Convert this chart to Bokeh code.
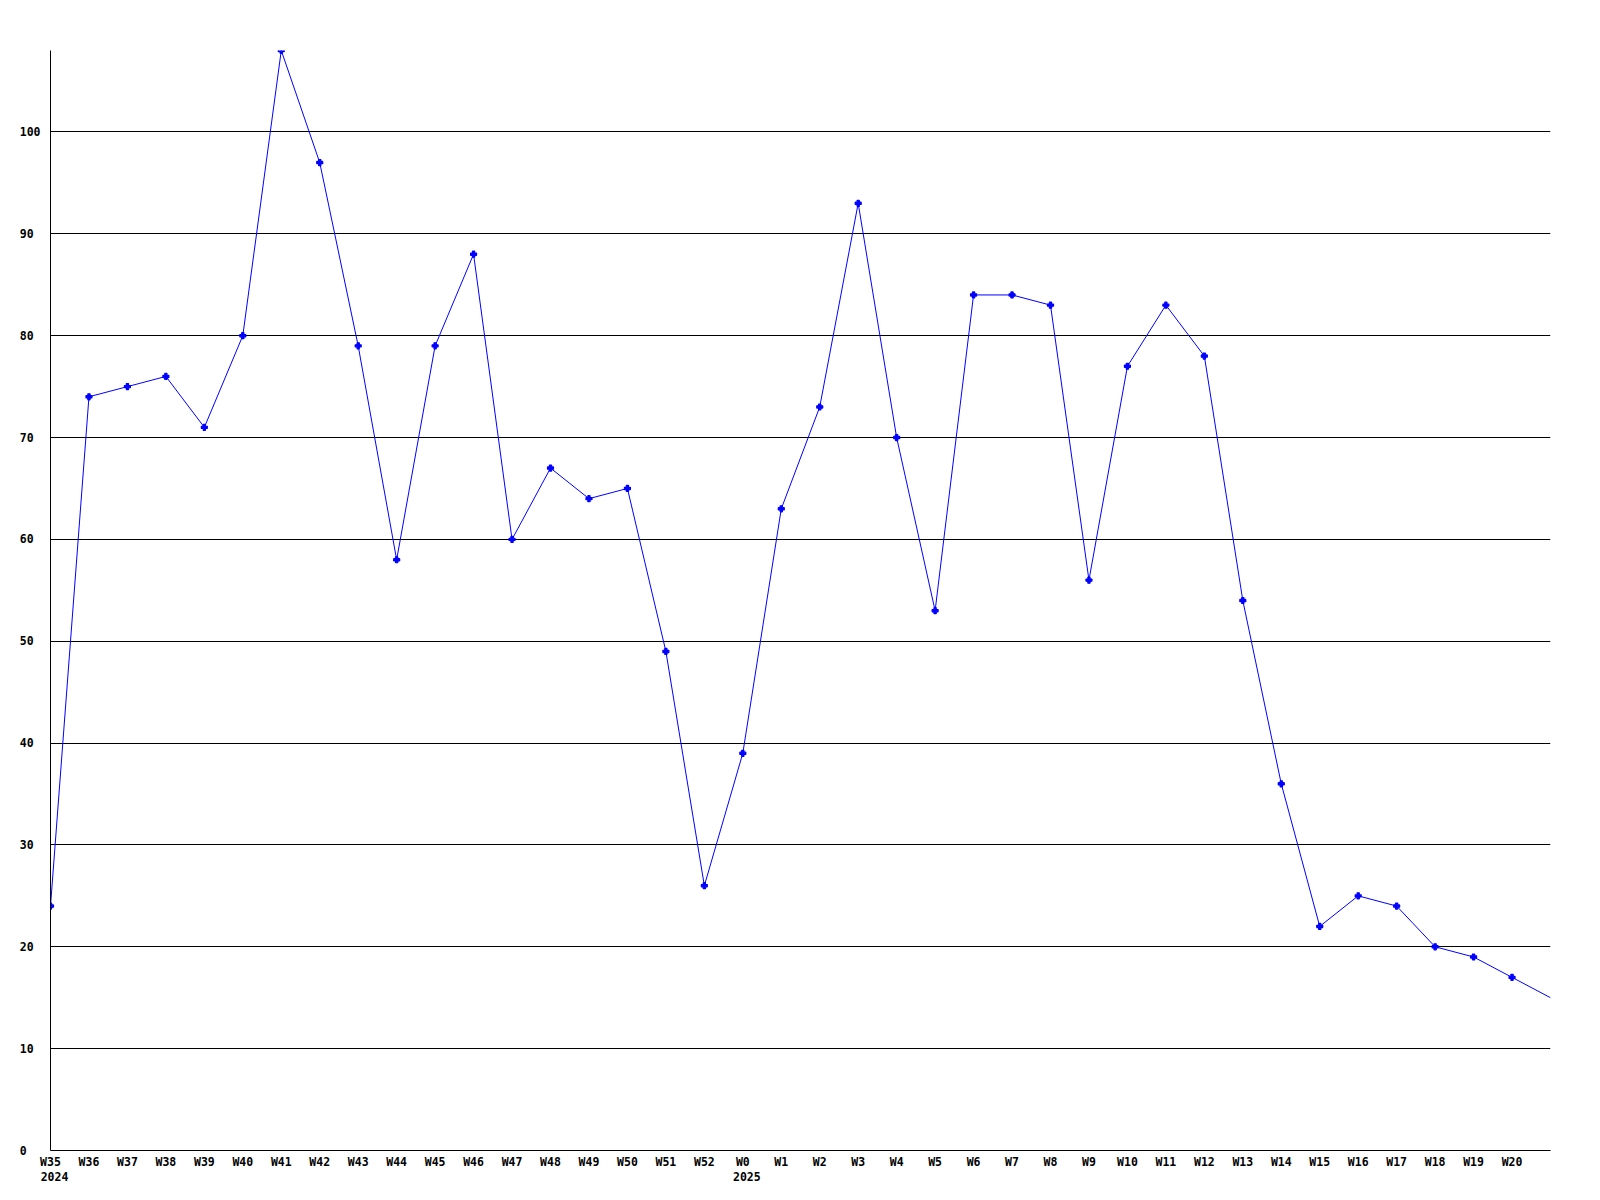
from bokeh.plotting import figure
from bokeh.models import Range1d, FixedTicker, LinearAxis
from bokeh.embed import file_html
from bokeh.resources import INLINE

weeks = ["W35", "W36", "W37", "W38", "W39", "W40", "W41", "W42", "W43", "W44",
         "W45", "W46", "W47", "W48", "W49", "W50", "W51", "W52",
         "W0", "W1", "W2", "W3", "W4", "W5", "W6", "W7", "W8", "W9", "W10",
         "W11", "W12", "W13", "W14", "W15", "W16", "W17", "W18", "W19", "W20", "W21"]
values = [24, 74, 75, 76, 71, 80, 108, 97, 79, 58,
          79, 88, 60, 67, 64, 65, 49, 26,
          39, 63, 73, 93, 70, 53, 84, 84, 83, 56, 77,
          83, 78, 54, 36, 22, 25, 24, 20, 19, 17, 15]
labelled_weeks = 39  # W21 has no tick label
year_labels = ["2024", "2025"]
year_positions = [0, 18]
y_ticks = [0, 10, 20, 30, 40, 50, 60, 70, 80, 90, 100]

FONT = "DejaVu Sans Mono"
FSIZE = "11.5px"
NB = "\u00a0"

xs = list(range(len(weeks)))
x_end = len(weeks) - 1

p = figure(width=1600, height=1200, output_backend="svg", toolbar_location=None,
           x_range=Range1d(0, x_end), y_range=Range1d(0, 108),
           min_border_left=50, min_border_right=50, min_border_top=50, min_border_bottom=50)
p.outline_line_color = None
p.background_fill_color = "white"
p.border_fill_color = "white"

p.line(xs, values, line_color="#0000ff", line_width=1)
p.scatter(xs[:labelled_weeks], values[:labelled_weeks], marker="plus", size=6,
          line_color="#0000ff", fill_color="#0000ff", line_width=1.2)

# x axis (week labels)
p.xaxis.ticker = FixedTicker(ticks=xs[:labelled_weeks])
p.xaxis.major_label_overrides = {i: weeks[i] for i in range(labelled_weeks)}
p.xaxis.major_tick_line_color = None
p.xaxis.major_tick_out = 0
p.xaxis.major_tick_in = 0
p.xaxis.minor_tick_line_color = None
p.xaxis.minor_tick_out = 0
p.xaxis.axis_line_color = "black"
p.xaxis.axis_line_width = 1
p.xaxis.major_label_text_font = FONT
p.xaxis.major_label_text_font_style = "bold"
p.xaxis.major_label_text_font_size = FSIZE
p.xaxis.major_label_text_color = "black"
p.xaxis.major_label_standoff = 4

# second axis for the year labels, nudged so the year starts where the week label starts
shift = 0.105
p.extra_x_ranges = {"years": Range1d(-shift, x_end - shift)}
year_axis = LinearAxis(x_range_name="years", ticker=FixedTicker(ticks=year_positions),
                       major_label_overrides={pos: yl for pos, yl in zip(year_positions, year_labels)},
                       axis_line_color=None, major_tick_line_color=None, minor_tick_line_color=None,
                       major_tick_out=0, major_tick_in=0, minor_tick_out=0,
                       major_label_text_font=FONT, major_label_text_font_style="bold",
                       major_label_text_font_size=FSIZE, major_label_text_color="black",
                       major_label_standoff=0)
p.add_layout(year_axis, "below")

# y axis, labels padded so they read left-aligned
p.yaxis.ticker = FixedTicker(ticks=y_ticks)
p.yaxis.major_label_overrides = {v: str(v) + NB * (3 - len(str(v))) for v in y_ticks}
p.yaxis.major_tick_line_color = None
p.yaxis.major_tick_out = 0
p.yaxis.major_tick_in = 0
p.yaxis.minor_tick_line_color = None
p.yaxis.minor_tick_out = 0
p.yaxis.axis_line_color = "black"
p.yaxis.axis_line_width = 1
p.yaxis.major_label_text_font = FONT
p.yaxis.major_label_text_font_style = "bold"
p.yaxis.major_label_text_font_size = FSIZE
p.yaxis.major_label_text_color = "black"
p.yaxis.major_label_standoff = 10

p.xgrid.grid_line_color = None
p.ygrid.ticker = FixedTicker(ticks=y_ticks[1:])
p.ygrid.grid_line_color = "black"
p.ygrid.grid_line_width = 1

open("out.html", "w").write(file_html(p, INLINE))
